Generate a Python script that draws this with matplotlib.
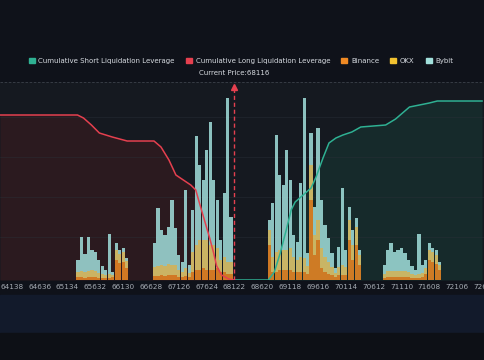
import numpy as np
import matplotlib
matplotlib.use("Agg")
import matplotlib.pyplot as plt
from matplotlib.patches import Patch, Rectangle

# price bins (first bin centre and bin size), bars read per bin
first_bin = 65320.75
bin_size = 62.25

binance = [3, 3, 2, 3, 3, 3, 2, 2, 2, 2, 3, 20, 17, 18, 12,
           0, 0, 0, 0, 0, 0, 0,
           4, 4, 5, 4, 5, 5, 5, 3, 3, 4, 3, 8, 10, 10, 12, 10, 10, 10, 12, 8, 8, 6, 6,
           0, 0, 0, 0, 0, 0, 0, 0, 0, 0,
           35, 8, 8, 10, 10, 10, 10, 8, 8, 8, 8, 6, 80, 25, 40, 12, 8, 6, 5, 3, 5, 5, 5, 40, 20, 35, 15,
           0, 0, 0, 0, 0, 0,
           2, 3, 3, 3, 3, 3, 3, 3, 2, 2, 2, 3, 6, 20, 18, 16, 10]
okx = [5, 6, 6, 6, 7, 6, 5, 4, 3, 4, 2, 10, 9, 10, 7,
       0, 0, 0, 0, 0, 0, 0,
       9, 10, 10, 10, 11, 10, 10, 7, 5, 8, 4, 20, 25, 30, 28, 30, 25, 25, 20, 12, 15, 12, 12,
       0, 0, 0, 0, 0, 0, 0, 0, 0, 0,
       15, 15, 20, 20, 20, 20, 22, 15, 12, 15, 14, 8, 35, 20, 20, 20, 15, 12, 8, 4, 8, 10, 8, 20, 15, 18, 10,
       0, 0, 0, 0, 0, 0,
       4, 6, 6, 6, 6, 6, 6, 5, 4, 3, 4, 4, 6, 10, 10, 9, 5]
bybit = [12, 34, 18, 34, 20, 19, 13, 8, 5, 40, 3, 7, 4, 4, 3,
         0, 0, 0, 0, 0, 0, 0,
         24, 58, 35, 31, 37, 65, 37, 15, 10, 78, 8, 42, 109, 75, 60, 90, 123, 65, 48, 20, 64, 164, 45,
         0, 0, 0, 0, 0, 0, 0, 0, 0, 0,
         10, 54, 117, 75, 65, 100, 68, 22, 18, 74, 160, 13, 32, 28, 92, 48, 32, 24, 14, 5, 20, 77, 17, 13, 15, 9, 5,
         0, 0, 0, 0, 0, 0,
         9, 21, 28, 19, 21, 23, 18, 12, 8, 5, 40, 8, 8, 7, 4, 5, 3]

# cumulative leverage curves (price, value)
long_price = [63925, 65312, 65419, 65561, 65703, 65934, 66201, 66681, 66806, 66948, 67073,
              67179, 67339, 67428, 67499, 67588, 67677, 67748, 67802, 67891, 68015, 68122]
long_value = [165, 165, 162, 155, 147, 143, 139, 139, 133, 120, 105,
              101, 95, 90, 76, 59, 42, 27, 14, 5, 1, 0]
short_price = [68122, 68727, 68834, 68940, 69047, 69136, 69207, 69349, 69492, 69581, 69705,
               69812, 69936, 70061, 70221, 70381, 70826, 71004, 71128, 71253, 71431, 71608,
               71750, 72551]
short_value = [0, 0, 8, 27, 50, 70, 78, 85, 92, 103, 122,
               137, 142, 145, 148, 153, 155, 161, 167, 173, 175, 177,
               179, 179]

current_price = 68116
tick_labels = [64138, 64636, 65134, 65632, 66130, 66628, 67126, 67624, 68122,
               68620, 69118, 69616, 70114, 70612, 71110, 71608, 72106, 72604]

c_short = "#2fb193"
c_long = "#e5404f"
c_binance = "#f08a24"
c_okx = "#f2c230"
c_bybit = "#a2e0dc"

fig = plt.figure(figsize=(4.85, 3.6), dpi=100)
fig.patch.set_facecolor("#0f121a")
# bottom bands
fig.add_artist(Rectangle((0, 0.075), 1, 0.105, transform=fig.transFigure,
                         color="#121a2b", zorder=0))
fig.add_artist(Rectangle((0, 0), 1, 0.075, transform=fig.transFigure,
                         color="#0d1016", zorder=0))

ax = fig.add_axes([0, 0.2222, 1, 0.55])
ax.set_facecolor("#151920")
ax.set_xlim(63925, 72551)
ax.set_ylim(0, 198)

ax.fill_between(long_price, long_value, 0, color="#2b1a1f", lw=0, zorder=1)
ax.fill_between(short_price, short_value, 0, color="#162a2b", lw=0, zorder=1)
for gy in [43, 83, 123, 163]:
    ax.axhline(gy, color="#2a3038", lw=0.5, alpha=0.6, zorder=1.5)
ax.axhline(198, color="#3c414a", lw=0.6, ls=(0, (3, 2)), clip_on=False, zorder=2)

n = len(bybit)
x = first_bin + bin_size * np.arange(n)
b1 = np.array(binance)
b2 = np.array(okx)
b3 = np.array(bybit)
w = bin_size * 0.92
ax.bar(x, b1, width=w, color=c_binance, alpha=0.85, lw=0, zorder=3)
ax.bar(x, b2, width=w, bottom=b1, color="#e8cf70", alpha=0.85, lw=0, zorder=3)
ax.bar(x, b3, width=w, bottom=b1 + b2, color=c_bybit, alpha=0.85, lw=0, zorder=3)

ax.plot(long_price, long_value, color=c_long, lw=1.1, zorder=4)
ax.plot(short_price, short_value, color=c_short, lw=1.1, zorder=4)

ax.vlines(current_price, 0, 193, colors=c_long, lw=1.0, ls=(0, (3, 2)), zorder=5)
ax.plot([current_price], [193], marker="^", ms=4, color=c_long, zorder=5, clip_on=False)
ax.text(current_price, 207, f"Current Price:{current_price}", ha="center", va="center",
        fontsize=5, color="#d6dae0", clip_on=False)

ax.set_xticks(tick_labels)
ax.set_xticklabels([str(t) for t in tick_labels])
ax.tick_params(axis="x", length=0, labelsize=5.2, colors="#a6acb4", pad=3)
ax.set_yticks([])
for s in ax.spines.values():
    s.set_visible(False)

handles = [Patch(color=c_short), Patch(color=c_long), Patch(color=c_binance),
           Patch(color=c_okx), Patch(color=c_bybit)]
labels = ["Cumulative Short Liquidation Leverage", "Cumulative Long Liquidation Leverage",
          "Binance", "OKX", "Bybit"]
fig.legend(handles, labels, loc="center", bbox_to_anchor=(0.497, 0.831), ncol=5,
           frameon=False, fontsize=5, handlelength=0.9, handleheight=0.9,
           handletextpad=0.5, columnspacing=1.6, labelcolor="#d6dae0")

fig.savefig("out.png", dpi=100, facecolor=fig.get_facecolor())
